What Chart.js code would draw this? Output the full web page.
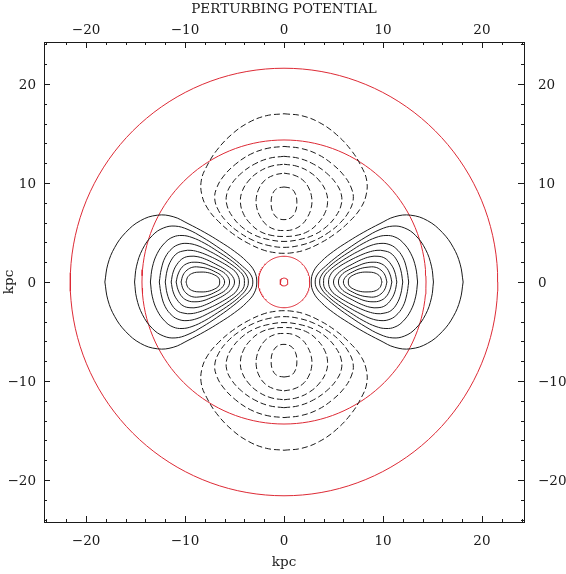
<!DOCTYPE html>
<html>
<head>
<meta charset="UTF-8">
<title>Perturbing potential</title>
<style>
  html, body { margin: 0; padding: 0; background: #fff; }
  #wrap { width: 566px; height: 574px; }
</style>
</head>
<body>
<div id="wrap"><canvas id="chart" width="566" height="574"></canvas></div>
<script src="https://cdn.jsdelivr.net/npm/chart.js"></script>
<script>
// axis data
const axisMin = -24.25, axisMax = 24.25;
const tickLabels = [-20, -10, 0, 10, 20];
const minorTicks = [-24, -22, -20, -18, -16, -14, -12, -10, -8, -6, -4, -2, 0,
                    2, 4, 6, 8, 10, 12, 14, 16, 18, 20, 22, 24];

// red circles (radius, kpc)
const circleRadii = [21.6, 14.35, 2.6, 0.4];

// solid contours, right lobe, upper half (outer crossing -> inner crossing)
const solid1 = [[18.1,0],[17.8,1.8],[17.1,3.5],[16.0,5.0],[14.5,6.2],[12.8,6.75],[11.2,6.6],[9.7,5.9],[8.0,5.0],[6.5,4.1],[5.0,3.1],[3.8,2.1],[3.0,1.1],[2.75,0]];
const solid2 = [[15.1,0],[14.9,1.6],[14.3,3.3],[13.3,4.7],[12.2,5.45],[11.0,5.65],[9.7,5.3],[8.2,4.5],[6.8,3.6],[5.4,2.6],[4.2,1.6],[3.4,0.8],[3.15,0]];
const solid3 = [[13.5,0],[13.3,1.5],[12.8,2.9],[12.0,4.0],[11.2,4.55],[10.3,4.7],[9.3,4.5],[8.0,3.9],[6.7,3.1],[5.5,2.3],[4.5,1.5],[3.8,0.7],[3.6,0]];
const solid4 = [[12.6,0],[12.4,1.3],[12.0,2.5],[11.3,3.4],[10.6,3.8],[9.8,3.9],[8.8,3.7],[7.7,3.2],[6.6,2.6],[5.5,1.9],[4.6,1.2],[4.1,0.6],[4.0,0]];
const solid5 = [[12.0,0],[11.8,1.2],[11.4,2.2],[10.8,2.9],[10.1,3.15],[9.4,3.2],[8.5,3.0],[7.5,2.6],[6.5,2.1],[5.5,1.5],[4.8,0.9],[4.5,0]];
const solid6 = [[11.4,0],[11.2,1.0],[10.8,1.8],[10.2,2.4],[9.5,2.6],[8.7,2.55],[7.8,2.25],[6.9,1.8],[6.0,1.3],[5.3,0.7],[5.0,0]];
const solid7 = [[10.9,0],[10.7,0.8],[10.3,1.5],[9.7,1.9],[9.0,2.0],[8.2,1.9],[7.4,1.6],[6.5,1.2],[5.8,0.7],[5.5,0]];
const solid8 = [[10.4,0],[10.2,0.7],[9.8,1.2],[9.2,1.5],[8.5,1.5],[7.7,1.35],[6.9,1.0],[6.3,0.6],[6.0,0]];
const solid9 = [[9.9,0],[9.7,0.55],[9.2,0.9],[8.5,1.0],[7.7,0.95],[7.0,0.7],[6.6,0.4],[6.5,0]];

// dashed contours, top lobe, right half (top crossing -> bottom crossing)
const dashed1 = [[0,17.0],[1.8,16.8],[3.6,16.1],[5.3,14.9],[6.8,13.3],[7.8,11.7],[8.35,10.3],[8.3,8.8],[7.7,7.4],[6.6,6.1],[5.2,4.9],[3.6,3.9],[2.0,3.2],[0.8,2.95],[0,2.9]];
const dashed2 = [[0,13.7],[1.7,13.5],[3.4,12.9],[4.9,11.9],[6.1,10.7],[6.8,9.5],[7.0,8.4],[6.6,7.2],[5.7,6.0],[4.5,5.0],[3.1,4.2],[1.6,3.7],[0,3.5]];
const dashed3 = [[0,12.7],[1.5,12.5],[3.0,11.9],[4.3,11.0],[5.3,9.9],[5.8,8.8],[5.75,7.7],[5.2,6.6],[4.3,5.6],[3.1,4.8],[1.6,4.3],[0,4.1]];
const dashed4 = [[0,11.9],[1.3,11.7],[2.6,11.1],[3.6,10.2],[4.25,9.1],[4.4,8.0],[4.1,6.9],[3.4,5.9],[2.4,5.1],[1.2,4.7],[0,4.6]];
const dashed5 = [[0,11.0],[1.0,10.8],[1.9,10.3],[2.5,9.5],[2.8,8.5],[2.75,7.5],[2.4,6.6],[1.8,5.8],[0.9,5.3],[0,5.2]];
const dashed6 = [[0,9.6],[0.7,9.45],[1.15,8.9],[1.3,8.0],[1.15,7.1],[0.7,6.5],[0,6.3]];

const solidHalves = [solid1, solid2, solid3, solid4, solid5, solid6, solid7, solid8, solid9];
const dashedHalves = [dashed1, dashed2, dashed3, dashed4, dashed5, dashed6];

const FONT = '"DejaVu Serif", "Liberation Serif", serif';
const RED = '#dd2a35';
const INK = '#1a1a1a';

// half curve + its mirror image -> closed curve
function closeX(half) { // mirror in y (about x axis)
  return half.concat(half.slice(0, -1).reverse().map(p => [p[0], -p[1]]));
}
function closeY(half) { // mirror in x (about y axis)
  return half.concat(half.slice(0, -1).reverse().map(p => [-p[0], p[1]]));
}
const toXY = pts => pts.map(p => ({ x: p[0], y: p[1] }));

const datasets = [];
function addLine(pts, dashed) {
  datasets.push({
    data: toXY(pts),
    showLine: true,
    borderColor: INK,
    borderWidth: 1,
    borderDash: dashed ? [6, 3] : [],
    pointRadius: 0,
    tension: 0.4,
    fill: false
  });
}
solidHalves.forEach(h => {
  const loop = closeX(h);
  addLine(loop, false);
  addLine(loop.map(p => [-p[0], p[1]]), false);
});
dashedHalves.forEach(h => {
  const loop = closeY(h);
  addLine(loop, true);
  addLine(loop.map(p => [p[0], -p[1]]), true);
});
circleRadii.forEach(r => {
  const pts = [];
  for (let i = 0; i <= 144; i++) {
    const a = i / 144 * 2 * Math.PI;
    pts.push({ x: r * Math.cos(a), y: r * Math.sin(a) });
  }
  datasets.push({
    data: pts, showLine: true, borderColor: RED, borderWidth: 1,
    pointRadius: 0, tension: 0, fill: false
  });
});

// frame, inward ticks and labels drawn on the chart's own scales
const framePlugin = {
  id: 'frame',
  afterDraw(chart) {
    const { ctx, chartArea: a, scales } = chart;
    const sx = scales.x, sy = scales.y;
    ctx.save();
    ctx.strokeStyle = INK;
    ctx.lineWidth = 1;
    ctx.strokeRect(a.left + 0.5, a.top + 0.5, a.right - a.left, a.bottom - a.top);
    ctx.beginPath();
    minorTicks.forEach(v => {
      const len = tickLabels.includes(v) ? 6 : 3;
      const px = Math.round(sx.getPixelForValue(v)) + 0.5;
      ctx.moveTo(px, a.top); ctx.lineTo(px, a.top + len);
      ctx.moveTo(px, a.bottom); ctx.lineTo(px, a.bottom - len);
      const py = Math.round(sy.getPixelForValue(v)) + 0.5;
      ctx.moveTo(a.left, py); ctx.lineTo(a.left + len, py);
      ctx.moveTo(a.right, py); ctx.lineTo(a.right - len, py);
    });
    ctx.stroke();

    ctx.fillStyle = INK;
    ctx.font = '13.5px ' + FONT;
    const fmt = v => (v < 0 ? '\u2212' : '') + Math.abs(v);
    tickLabels.forEach(v => {
      const px = sx.getPixelForValue(v);
      ctx.textAlign = 'center';
      ctx.textBaseline = 'alphabetic';
      ctx.fillText(fmt(v), px, 34);
      ctx.fillText(fmt(v), px, 545);
      const py = sy.getPixelForValue(v);
      ctx.textAlign = 'right';
      ctx.fillText(fmt(v), 36, py + 5);
      ctx.textAlign = 'left';
      ctx.fillText(fmt(v), 538, py + 5);
    });
    ctx.textAlign = 'center';
    ctx.fillText('PERTURBING POTENTIAL', (a.left + a.right) / 2, 13);
    ctx.fillText('kpc', (a.left + a.right) / 2, 566);
    ctx.translate(13, (a.top + a.bottom) / 2);
    ctx.rotate(-Math.PI / 2);
    ctx.fillText('kpc', 0, 0);
    ctx.restore();
  }
};

new Chart(document.getElementById('chart').getContext('2d'), {
  type: 'scatter',
  data: { datasets: datasets },
  options: {
    responsive: false,
    animation: false,
    layout: { padding: { left: 44, right: 42, top: 42, bottom: 52 } },
    plugins: { legend: { display: false }, tooltip: { enabled: false } },
    scales: {
      x: { type: 'linear', min: axisMin, max: axisMax, display: false },
      y: { type: 'linear', min: axisMin, max: axisMax, display: false }
    }
  },
  plugins: [framePlugin]
});
</script>
</body>
</html>
